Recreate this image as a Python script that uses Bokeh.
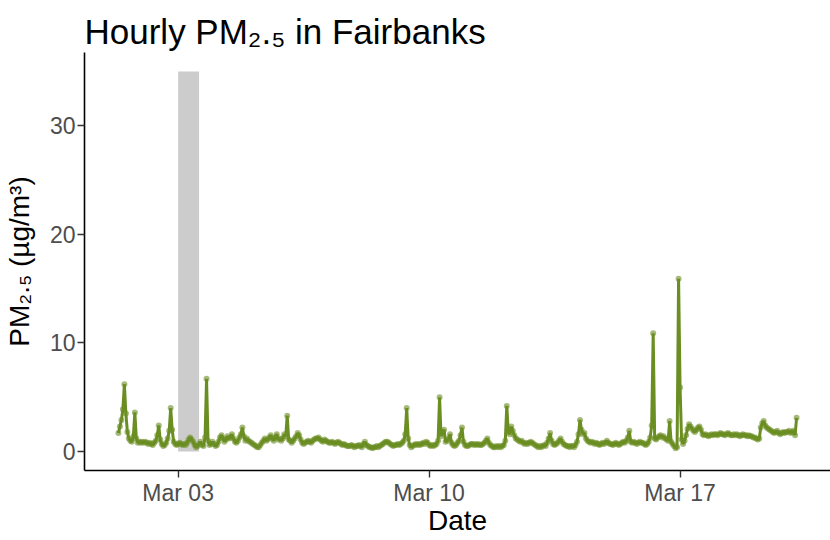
import pandas as pd
from bokeh.plotting import figure
from bokeh.models import Range1d, FixedTicker, DatetimeTickFormatter, ColumnDataSource
from bokeh.embed import file_html
from bokeh.resources import INLINE

# Hourly PM2.5 (ug/m3), starting 2024-03-01 08:00
mar01 = [1.7, 2.3, 2.9, 3.9, 6.2, 3.5, 1.8, 1.2, 1.0, 0.9, 1.4, 3.6, 1.2, 0.8, 0.9, 0.8]
mar02 = [0.9, 0.8, 0.9, 0.8, 0.7, 0.8, 0.7, 0.6, 0.8, 1.0, 1.5, 2.4, 1.1, 0.7, 0.5, 0.6,
         0.8, 1.2, 1.9, 4.0, 2.0, 0.9, 0.7, 0.6]
mar03 = [0.7, 0.8, 0.7, 0.6, 0.7, 0.6, 0.8, 1.1, 1.3, 1.1, 0.9, 0.6, 0.4, 0.5, 0.7, 0.9,
         0.6, 0.5, 1.3, 6.7, 1.0, 0.6, 0.7, 0.9]
mar04 = [0.7, 0.5, 0.6, 0.9, 1.3, 1.5, 1.2, 0.9, 1.1, 1.4, 1.2, 1.3, 1.6, 1.2, 0.9, 0.8,
         1.0, 1.3, 1.6, 2.2, 1.4, 1.0, 1.2, 1.0]
mar05 = [0.9, 0.8, 0.7, 0.6, 0.5, 0.4, 0.4, 0.6, 0.8, 1.0, 1.2, 1.0, 1.1, 1.3, 1.5, 1.2,
         1.0, 1.3, 1.6, 1.1, 1.2, 1.0, 1.2, 1.6]
mar06 = [1.4, 3.3, 1.1, 1.0, 0.8, 1.0, 1.2, 1.4, 1.7, 1.5, 1.1, 0.8, 0.7, 0.8, 0.9, 1.0,
         0.9, 0.8, 1.0, 1.1, 1.2, 1.2, 1.3, 1.1]
mar07 = [1.0, 0.9, 1.1, 1.0, 0.9, 0.8, 0.8, 0.9, 0.8, 0.7, 0.8, 0.9, 0.8, 0.7, 0.6, 0.7,
         0.6, 0.5, 0.5, 0.5, 0.6, 0.5, 0.4, 0.5]
mar08 = [0.5, 0.6, 0.5, 0.4, 0.7, 0.9, 0.6, 0.5, 0.4, 0.4, 0.3, 0.4, 0.4, 0.5, 0.4, 0.5,
         0.6, 0.7, 0.8, 0.9, 0.9, 0.8, 0.7, 0.6]
mar09 = [0.5, 0.6, 0.6, 0.7, 0.6, 0.7, 0.8, 1.0, 1.6, 4.0, 1.2, 0.6, 0.4, 0.5, 0.6, 0.7,
         0.6, 0.7, 0.6, 0.7, 0.8, 0.7, 0.9, 0.8]
mar10 = [0.6, 0.5, 0.6, 0.5, 0.6, 0.7, 1.0, 5.0, 1.4, 1.8, 2.0, 0.9, 1.0, 1.2, 1.6, 0.8,
         0.6, 0.5, 0.6, 0.8, 1.0, 1.5, 2.2, 0.9]
mar11 = [0.6, 0.5, 0.5, 0.6, 0.7, 0.7, 0.6, 0.7, 0.6, 0.7, 0.6, 0.6, 0.7, 0.8, 1.0, 1.2,
         0.8, 0.6, 0.5, 0.4, 0.4, 0.5, 0.4, 0.5]
mar12 = [0.4, 0.5, 0.6, 1.0, 4.2, 1.8, 1.6, 2.3, 1.9, 1.5, 1.2, 1.1, 1.0, 0.9, 1.0, 0.8,
         0.7, 0.8, 0.7, 0.8, 0.9, 0.8, 0.7, 0.6]
mar13 = [0.5, 0.4, 0.5, 0.4, 0.5, 0.6, 0.5, 0.8, 1.2, 1.7, 1.0, 0.7, 0.6, 0.7, 0.8, 1.0,
         1.2, 0.9, 0.7, 0.6, 0.5, 0.5, 0.4, 0.5]
mar14 = [0.5, 0.4, 0.6, 0.9, 1.6, 2.9, 2.0, 1.6, 1.7, 1.2, 1.0, 0.9, 0.8, 0.9, 0.8, 0.7,
         0.8, 0.7, 0.6, 0.7, 0.8, 0.7, 0.8, 1.0]
mar15 = [0.8, 0.7, 0.7, 0.6, 0.7, 0.8, 0.7, 0.6, 0.7, 0.8, 0.9, 0.8, 1.0, 1.3, 1.9, 0.9,
         0.8, 0.9, 0.8, 0.7, 0.8, 0.9, 0.8, 0.8]
mar16 = [0.7, 0.6, 0.7, 0.9, 1.3, 2.4, 10.9, 1.2, 1.1, 1.3, 1.4, 1.5, 1.3, 1.4, 1.2, 1.1,
         1.0, 2.8, 0.9, 0.7, 0.5, 0.3, 0.4, 15.9]
mar17 = [5.9, 1.1, 0.7, 1.0, 1.5, 2.1, 2.5, 2.3, 2.1, 1.9, 1.8, 2.0, 2.2, 2.3, 2.0, 1.6,
         1.5, 1.6, 1.5, 1.4, 1.5, 1.6, 1.5, 1.6]
mar18 = [1.6, 1.5, 1.6, 1.7, 1.6, 1.6, 1.5, 1.6, 1.7, 1.6, 1.5, 1.5, 1.6, 1.5, 1.6, 1.5,
         1.4, 1.5, 1.6, 1.5, 1.5, 1.4, 1.5, 1.4]
mar19 = [1.4, 1.3, 1.3, 1.2, 1.1, 1.2, 2.2, 2.6, 2.8, 2.4, 2.2, 2.1, 2.0, 1.9, 1.8, 1.7,
         1.8, 1.9, 1.7, 1.6, 1.7, 1.8, 1.7, 1.8]
mar20 = [1.8, 1.9, 1.7, 1.8, 1.9, 1.5, 3.1]

series_start = "2024-03-01 08:00"

# shaded period
shade_start = ["2024-03-03 00:00"]
shade_end = ["2024-03-03 14:00"]
shade_bottom = [0]
shade_top = [35]

x_ticks = ["2024-03-03", "2024-03-10", "2024-03-17"]
y_ticks = [0, 10, 20, 30]

pm = (mar01 + mar02 + mar03 + mar04 + mar05 + mar06 + mar07 + mar08 + mar09 + mar10 +
      mar11 + mar12 + mar13 + mar14 + mar15 + mar16 + mar17 + mar18 + mar19 + mar20)
times = pd.date_range(start=series_start, periods=len(pm), freq="h")
src = ColumnDataSource(dict(t=times, pm=pm))

FONT = "Liberation Sans"
GREEN = "#6B8E23"

# ggplot-style 5% expansion of the data range
span = times[-1] - times[0]
x_lo = times[0] - span * 0.05
x_hi = times[-1] + span * 0.05
y_lo, y_hi = 0, max(shade_top)
y_pad = (y_hi - y_lo) * 0.05

p = figure(frame_width=746, frame_height=418, x_axis_type="datetime",
           x_range=Range1d(x_lo, x_hi), y_range=Range1d(y_lo - y_pad, y_hi + y_pad),
           output_backend="svg", toolbar_location=None,
           min_border_left=84, min_border_right=0, min_border_top=52, min_border_bottom=64,
           title="Hourly PM₂.₅ in Fairbanks")

p.quad(left=pd.to_datetime(shade_start), right=pd.to_datetime(shade_end),
       bottom=shade_bottom, top=shade_top, color="#CCCCCC", line_color=None)
p.line("t", "pm", source=src, line_color=GREEN, line_width=3)
p.scatter("t", "pm", source=src, size=6, fill_color=GREEN, line_color=None, fill_alpha=0.6)

p.title.text_font = FONT
p.title.text_font_size = "35px"
p.title.text_font_style = "normal"
p.title.text_color = "black"
p.title.align = "left"
p.title.standoff = 0
p.title.vertical_align = "top"

p.xgrid.visible = False
p.ygrid.visible = False
p.outline_line_color = None

p.xaxis.ticker = FixedTicker(ticks=[pd.Timestamp(t).value / 1e6 for t in x_ticks])
p.xaxis.formatter = DatetimeTickFormatter(days="%b %d", months="%b %d", hours="%b %d")
p.yaxis.ticker = FixedTicker(ticks=y_ticks)
p.xaxis.axis_label = "Date"
p.yaxis.axis_label = "PM₂.₅ (µg/m³)"

for ax in (p.xaxis[0], p.yaxis[0]):
    ax.axis_line_color = "black"
    ax.axis_line_width = 1.6
    ax.major_tick_line_color = "#333333"
    ax.major_tick_line_width = 1.4
    ax.major_tick_out = 7
    ax.major_tick_in = 0
    ax.minor_tick_line_color = None
    ax.major_label_text_font = FONT
    ax.major_label_text_font_size = "23px"
    ax.major_label_text_color = "#4D4D4D"
    ax.major_label_standoff = 2
    ax.axis_label_text_font = FONT
    ax.axis_label_text_font_size = "28px"
    ax.axis_label_text_font_style = "normal"
    ax.axis_label_text_color = "black"

p.xaxis[0].axis_label_standoff = -4
p.yaxis[0].axis_label_standoff = 12

open("out.html", "w").write(file_html(p, INLINE))
